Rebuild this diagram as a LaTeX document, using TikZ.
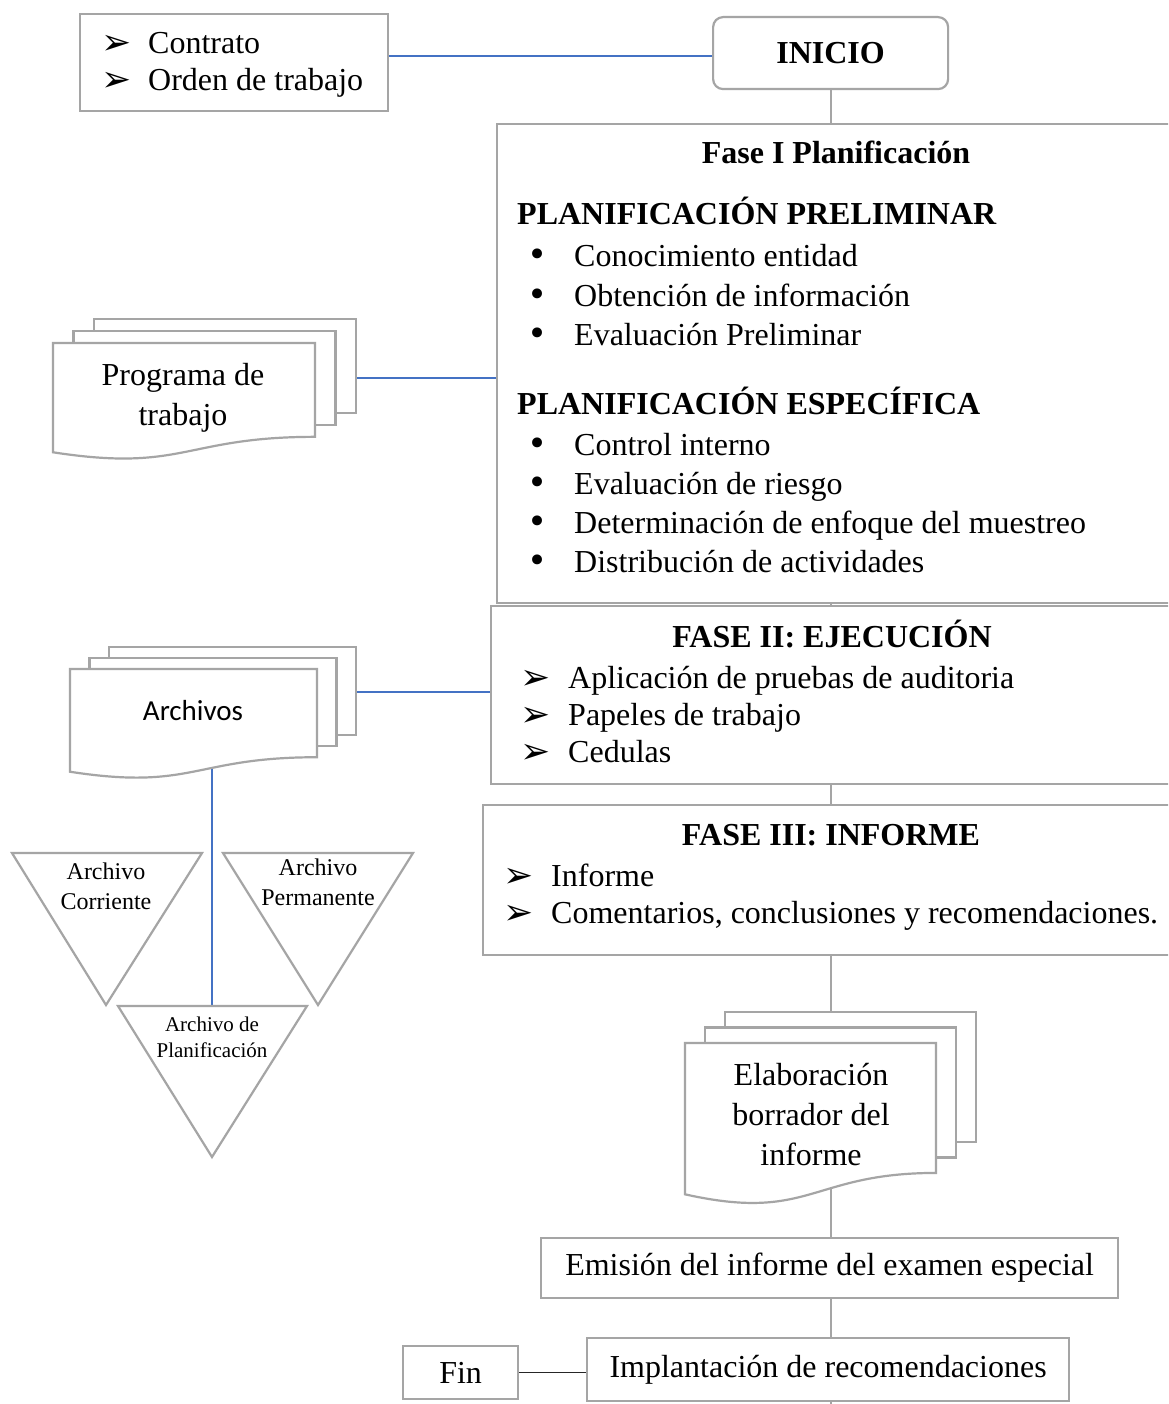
\documentclass[tikz,border=0pt]{standalone}
\usepackage{fontspec}
\setmainfont{Liberation Serif}
\newfontfamily\carlito{Carlito}
\newfontfamily\dejavu{DejaVu Sans}
\pgfdeclarelayer{background}
\pgfsetlayers{background,main}
\definecolor{lgray}{RGB}{165,165,165}
\definecolor{lineblue}{RGB}{68,114,196}
\newcommand\arr{{\dejavu\fontsize{36}{36}\selectfont\raisebox{-1pt}{➢}}}
\newcommand\bl{{\dejavu\fontsize{34}{34}\selectfont •}}
\newcommand\mdoc[7]{%
  \path[docl] (#2+2*#6,#3-2*#7) rectangle (#2+2*#6+#4,#3-2*#7+0.802*#5);
  \path[docl] (#2+#6,#3-#7) rectangle (#2+#6+#4,#3-#7+0.802*#5);
  \path[docl] (#2,#3) -- (#2+#4,#3) -- (#2+#4,#3+0.802*#5) .. controls (#2+0.5*#4,#3+0.802*#5) and (#2+0.5*#4,#3+1.1075*#5) .. (#2,#3+0.934*#5) -- cycle;
  \coordinate (#1) at (#2+0.5*#4,#3+0.45*#5);
}
\begin{document}
\begin{tikzpicture}[x=1pt,y=-1pt,
  gbox/.style={draw=lgray,line width=2.2pt,fill=white,inner sep=0pt,anchor=north west},
  bluel/.style={draw=lineblue,line width=1.2pt},
  grayl/.style={draw=lgray,line width=2.2pt},
  blackl/.style={draw=black!85,line width=1.6pt},
  docl/.style={draw=lgray,line width=2.2pt,fill=white,line join=miter},
  tri/.style={draw=lgray,line width=2.2pt,fill=white,line join=miter},
  t/.style={inner sep=0pt,anchor=base west,font=\fontsize{32}{38}\selectfont},
  tc/.style={inner sep=0pt,anchor=base,font=\fontsize{32}{38}\selectfont},
  tb/.style={inner sep=0pt,anchor=base,font=\fontsize{32}{38}\selectfont\bfseries},
  tbw/.style={inner sep=0pt,anchor=base west,font=\fontsize{32}{38}\selectfont\bfseries},
  ts/.style={inner sep=0pt,anchor=base,font=\fontsize{24}{28}\selectfont},
  tss/.style={inner sep=0pt,anchor=base,font=\fontsize{21}{25}\selectfont},
  bul/.style={inner sep=0pt,anchor=base west,font=\fontsize{32}{38}\selectfont}
]
\useasboundingbox (0,0) rectangle (1168,1404);
\clip (0,0) rectangle (1168,1404);

% top-left box
\node[gbox,minimum width=308pt,minimum height=97pt] (c0) at (79,13) {};
\node[bul] (b01) at (101,54) {\arr};
\node[t] (l01) at (148,54) {Contrato};
\node[bul] (b02) at (101,91) {\arr};
\node[t] (l02) at (148,91) {Orden de trabajo};

% INICIO
\node[gbox,rounded corners=10pt,minimum width=235pt,minimum height=72pt,font=\fontsize{32}{38}\selectfont\bfseries] (inicio) at (712,16) {INICIO};

% Fase I
\node[gbox,minimum width=700pt,minimum height=479pt] (f1) at (496,123) {};
\node[tb] (h1) at (836,164) {Fase I Planificación};
\node[tbw] (h11) at (517,225) {PLANIFICACIÓN PRELIMINAR};
\node[bul] (p1) at (527,267) {\bl};
\node[t] (q1) at (574,267) {Conocimiento entidad};
\node[bul] (p2) at (527,306) {\bl};
\node[t] (q2) at (574,306) {Obtención de información};
\node[bul] (p3) at (527,345) {\bl};
\node[t] (q3) at (574,345) {Evaluación Preliminar};
\node[tbw] (h12) at (517,414) {PLANIFICACIÓN ESPECÍFICA};
\node[bul] (p4) at (527,455) {\bl};
\node[t] (q4) at (574,455) {Control interno};
\node[bul] (p5) at (527,494) {\bl};
\node[t] (q5) at (574,494) {Evaluación de riesgo};
\node[bul] (p6) at (527,533) {\bl};
\node[t] (q6) at (574,533) {Determinación de enfoque del muestreo};
\node[bul] (p7) at (527,572) {\bl};
\node[t] (q7) at (574,572) {Distribución de actividades};

% Fase II
\node[gbox,minimum width=700pt,minimum height=178pt] (f2) at (490,605) {};
\node[tb] (h2) at (832,647) {FASE II: EJECUCIÓN};
\node[bul] (r1) at (520,688) {\arr};
\node[t] (s1) at (568,688) {Aplicación de pruebas de auditoria};
\node[bul] (r2) at (520,725) {\arr};
\node[t] (s2) at (568,725) {Papeles de trabajo};
\node[bul] (r3) at (520,762) {\arr};
\node[t] (s3) at (568,762) {Cedulas};

% Fase III
\node[gbox,minimum width=720pt,minimum height=150pt] (f3) at (482,804) {};
\node[tb] (h3) at (831,845) {FASE III: INFORME};
\node[bul] (u1) at (503,886) {\arr};
\node[t] (v1) at (551,886) {Informe};
\node[bul] (u2) at (503,923) {\arr};
\node[t] (v2) at (551,923) {Comentarios, conclusiones y recomendaciones.};

% multi documents
\mdoc{prog}{53}{343}{262}{117}{20.5}{12}
\node[tc] (pt1) at (183,385) {Programa de};
\node[tc] (pt2) at (183,425) {trabajo};
\coordinate (prog-e) at (356,378);

\mdoc{arch}{70}{669}{247}{110}{19.5}{11}
\node[inner sep=0pt,anchor=base,font=\carlito\fontsize{29}{34}\selectfont] (at1) at (193,720) {Archivos};
\coordinate (arch-e) at (357,692);
\coordinate (arch-s) at (212,760);

\mdoc{elab}{685}{1043}{251}{162}{20}{15.5}
\node[tc] (et1) at (811,1085) {Elaboración};
\node[tc] (et2) at (811,1125) {borrador del};
\node[tc] (et3) at (811,1165) {informe};
\coordinate (elab-top) at (830,1012);
\coordinate (elab-bot) at (830,1180);

% triangles
\draw[tri] (12,853) -- (202,853) -- (106,1005) -- cycle;
\node[ts] (tt1) at (106,879) {Archivo};
\node[ts] (tt2) at (106,909) {Corriente};
\draw[tri] (223,853) -- (413,853) -- (318,1005) -- cycle;
\node[ts] (tt3) at (318,875) {Archivo};
\node[ts] (tt4) at (318,905) {Permanente};
\draw[tri] (118,1006) -- (307,1006) -- (212,1157) -- cycle;
\coordinate (t3n) at (212,1006);
\node[tss] (tt5) at (212,1031) {Archivo de};
\node[tss] (tt6) at (212,1057) {Planificación};

% bottom boxes
\node[gbox,minimum width=577pt,minimum height=60pt,font=\fontsize{32}{38}\selectfont] (emis) at (540,1237) {Emisión del informe del examen especial};
\node[gbox,minimum width=482pt,minimum height=63pt,font=\fontsize{32}{38}\selectfont] (impl) at (586,1337) {Implantación de recomendaciones};
\node[gbox,minimum width=115pt,minimum height=53pt,font=\fontsize{32}{38}\selectfont] (fin) at (402,1345) {Fin};

% connectors
\begin{pgfonlayer}{background}
\fill[white] (0,0) rectangle (1168,1404);
\coordinate (c0e) at (387,56);
\draw[bluel] (c0e) -- (c0e -| inicio.west);
\draw[grayl] (inicio.south) -- (inicio.south |- f1.north);
\draw[grayl] (inicio.south |- f1.south) -- (inicio.south |- f2.north);
\draw[grayl] (inicio.south |- f2.south) -- (inicio.south |- f3.north);
\draw[grayl] (inicio.south |- f3.south) -- (inicio.south |- elab-top);
\draw[grayl] (inicio.south |- elab-bot) -- (inicio.south |- emis.north);
\draw[grayl] (inicio.south |- emis.south) -- (inicio.south |- impl.north);
\draw[grayl] (inicio.south |- impl.south) -- ++(0,12);
\draw[blackl] (fin.east) -- (fin.east -| impl.west);
\draw[bluel] (prog-e) -- (prog-e -| f1.west);
\draw[bluel] (arch-e) -- (arch-e -| f2.west);
\draw[bluel] (arch-s) -- (t3n);
\end{pgfonlayer}
\end{tikzpicture}
\end{document}
